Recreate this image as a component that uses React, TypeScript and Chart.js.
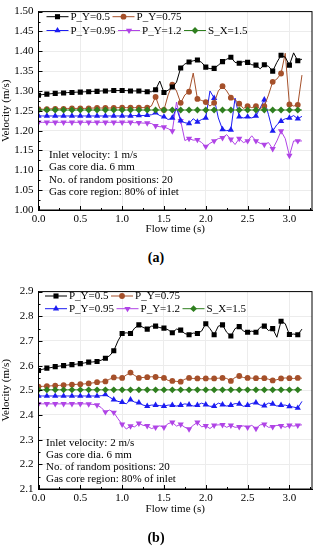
import React, { useEffect, useRef } from 'react';
import { Chart, registerables } from 'chart.js';
Chart.register(...registerables);

const FONT = "'Liberation Serif', 'Times New Roman', serif";

const TIME = [0.00,0.05,0.10,0.15,0.20,0.25,0.30,0.35,0.40,0.45,0.50,0.55,0.60,0.65,0.70,0.75,0.80,0.85,0.90,0.95,1.00,1.05,1.10,1.15,1.20,1.25,1.30,1.35,1.40,1.45,1.50,1.55,1.60,1.65,1.70,1.75,1.80,1.85,1.90,1.95,2.00,2.05,2.10,2.15,2.20,2.25,2.30,2.35,2.40,2.45,2.50,2.55,2.60,2.65,2.70,2.75,2.80,2.85,2.90,2.95,3.00,3.05,3.10,3.15];

const X_TICKS = [0, 0.5, 1.0, 1.5, 2.0, 2.5, 3.0];
const X_MINOR = [0.25, 0.75, 1.25, 1.75, 2.25, 2.75, 3.25];

// (a) inlet velocity 1 m/s
const A_Y_TICKS = [1.00,1.05,1.10,1.15,1.20,1.25,1.30,1.35,1.40,1.45,1.50];
const A_Y_MINOR = [1.025,1.075,1.125,1.175,1.225,1.275,1.325,1.375,1.425,1.475];
const A_PY05 = [1.289,1.291,1.292,1.293,1.294,1.295,1.295,1.296,1.296,1.297,
  1.297,1.298,1.298,1.299,1.299,1.300,1.300,1.300,1.301,1.301,
  1.301,1.301,1.300,1.300,1.300,1.299,1.298,1.298,1.303,1.325,
  1.296,1.302,1.310,1.322,1.358,1.368,1.373,1.376,1.378,1.372,
  1.360,1.356,1.357,1.365,1.374,1.380,1.385,1.372,1.370,1.374,
  1.372,1.366,1.365,1.356,1.366,1.362,1.350,1.372,1.390,1.385,
  1.365,1.396,1.376,1.380];
const A_PY075 = [1.254,1.254,1.254,1.255,1.255,1.255,1.255,1.256,1.256,1.256,
  1.256,1.256,1.256,1.257,1.257,1.257,1.257,1.257,1.257,1.258,
  1.258,1.258,1.258,1.258,1.258,1.258,1.258,1.262,1.285,1.256,
  1.252,1.290,1.316,1.300,1.270,1.290,1.298,1.345,1.280,1.276,
  1.272,1.262,1.270,1.300,1.312,1.300,1.283,1.278,1.268,1.256,
  1.262,1.258,1.262,1.255,1.262,1.290,1.323,1.330,1.344,1.395,
  1.266,1.262,1.265,1.340];
const A_PY095 = [1.237,1.237,1.237,1.237,1.237,1.237,1.237,1.237,1.237,1.237,
  1.237,1.237,1.237,1.237,1.237,1.237,1.237,1.237,1.237,1.237,
  1.237,1.237,1.237,1.238,1.238,1.238,1.239,1.240,1.245,1.238,
  1.235,1.228,1.232,1.257,1.225,1.220,1.218,1.230,1.222,1.228,
  1.232,1.300,1.282,1.232,1.203,1.200,1.202,1.282,1.235,1.232,
  1.235,1.232,1.237,1.257,1.278,1.240,1.199,1.215,1.224,1.230,
  1.232,1.238,1.230,1.236];
const A_PY12 = [1.221,1.221,1.221,1.221,1.221,1.221,1.221,1.221,1.221,1.221,
  1.221,1.221,1.221,1.221,1.221,1.221,1.221,1.221,1.221,1.221,
  1.221,1.221,1.221,1.220,1.220,1.219,1.219,1.218,1.212,1.210,
  1.209,1.205,1.199,1.272,1.225,1.175,1.180,1.176,1.177,1.170,
  1.160,1.168,1.174,1.180,1.182,1.190,1.178,1.165,1.180,1.170,
  1.174,1.187,1.174,1.168,1.165,1.170,1.154,1.174,1.199,1.180,
  1.137,1.174,1.174,1.174];
const A_SX15 = [1.252,1.252,1.252,1.252,1.252,1.252,1.252,1.252,1.252,1.252,
  1.252,1.252,1.252,1.252,1.252,1.252,1.252,1.252,1.252,1.252,
  1.252,1.252,1.252,1.252,1.252,1.252,1.252,1.252,1.252,1.252,
  1.252,1.252,1.252,1.252,1.252,1.252,1.252,1.252,1.252,1.252,
  1.252,1.252,1.252,1.252,1.252,1.252,1.252,1.252,1.252,1.252,
  1.252,1.252,1.252,1.252,1.252,1.252,1.252,1.252,1.252,1.252,
  1.252,1.252,1.252,1.252];

// (b) inlet velocity 2 m/s
const B_Y_TICKS = [2.1,2.2,2.3,2.4,2.5,2.6,2.7,2.8,2.9];
const B_Y_MINOR = [2.15,2.25,2.35,2.45,2.55,2.65,2.75,2.85];
const B_PY05 = [2.580,2.585,2.590,2.592,2.596,2.598,2.600,2.602,2.604,2.606,
  2.608,2.611,2.614,2.615,2.617,2.622,2.630,2.640,2.660,2.700,
  2.730,2.733,2.730,2.752,2.765,2.755,2.748,2.760,2.760,2.754,
  2.752,2.745,2.733,2.748,2.744,2.730,2.725,2.732,2.730,2.740,
  2.770,2.750,2.725,2.760,2.765,2.735,2.720,2.750,2.758,2.740,
  2.735,2.740,2.735,2.755,2.760,2.742,2.750,2.715,2.780,2.770,
  2.726,2.728,2.725,2.748];
const B_PY075 = [2.515,2.516,2.517,2.518,2.519,2.520,2.521,2.522,2.523,2.524,
  2.525,2.526,2.528,2.530,2.533,2.534,2.536,2.545,2.552,2.550,
  2.550,2.562,2.572,2.560,2.550,2.552,2.553,2.555,2.554,2.552,
  2.550,2.540,2.538,2.536,2.535,2.545,2.550,2.548,2.548,2.547,
  2.548,2.546,2.548,2.549,2.550,2.548,2.538,2.552,2.558,2.552,
  2.550,2.549,2.549,2.548,2.549,2.545,2.540,2.543,2.548,2.550,
  2.549,2.548,2.550,2.549];
const B_PY095 = [2.477,2.477,2.477,2.477,2.477,2.477,2.477,2.477,2.477,2.477,
  2.477,2.477,2.477,2.477,2.477,2.478,2.483,2.472,2.462,2.455,
  2.452,2.445,2.462,2.452,2.450,2.440,2.436,2.440,2.440,2.438,
  2.436,2.440,2.440,2.436,2.440,2.445,2.442,2.436,2.440,2.448,
  2.442,2.435,2.436,2.448,2.442,2.436,2.440,2.446,2.445,2.435,
  2.440,2.447,2.450,2.440,2.438,2.448,2.445,2.436,2.440,2.440,
  2.435,2.432,2.428,2.455];
const B_PY12 = [2.445,2.445,2.445,2.445,2.445,2.445,2.445,2.445,2.445,2.445,
  2.445,2.445,2.444,2.443,2.440,2.430,2.412,2.420,2.410,2.385,
  2.362,2.343,2.355,2.352,2.366,2.358,2.356,2.345,2.350,2.356,
  2.350,2.365,2.370,2.355,2.362,2.350,2.343,2.358,2.370,2.352,
  2.356,2.345,2.358,2.360,2.360,2.350,2.358,2.350,2.352,2.356,
  2.350,2.358,2.345,2.360,2.362,2.350,2.352,2.358,2.356,2.350,
  2.358,2.355,2.358,2.360];
const B_SX15 = [2.502,2.502,2.502,2.502,2.502,2.502,2.502,2.502,2.502,2.502,
  2.502,2.502,2.502,2.502,2.502,2.502,2.502,2.502,2.502,2.502,
  2.502,2.502,2.502,2.502,2.502,2.502,2.502,2.502,2.502,2.502,
  2.502,2.502,2.502,2.502,2.502,2.502,2.502,2.502,2.502,2.502,
  2.502,2.502,2.502,2.502,2.502,2.502,2.502,2.502,2.502,2.502,
  2.502,2.502,2.502,2.502,2.502,2.502,2.502,2.502,2.502,2.502,
  2.502,2.502,2.502,2.502];

const SERIES_LABELS = ['P_Y=0.5', 'P_Y=0.75', 'P_Y=0.95', 'P_Y=1.2', 'S_X=1.5'];
const COLORS = ['#000000', '#a5502a', '#1c1cf2', '#b044e6', '#2f7f1f'];
const STYLES = ['rect', 'circle', 'triangle', 'triangleDown', 'rectRot'];
const RADII = [3.6, 2.9, 3.6, 3.6, 3.4];

function drawMarker(ctx: CanvasRenderingContext2D, style: string, x: number, y: number, r: number, color: string) {
  ctx.save();
  ctx.fillStyle = color;
  ctx.beginPath();
  if (style === 'rect') {
    const s = r * Math.SQRT1_2;
    ctx.rect(x - s, y - s, 2 * s, 2 * s);
  } else if (style === 'circle') {
    ctx.arc(x, y, r, 0, Math.PI * 2);
  } else if (style === 'triangle' || style === 'triangleDown') {
    const base = style === 'triangle' ? 0 : Math.PI;
    for (let k = 0; k < 3; k++) {
      const a = base + (k * 2 * Math.PI) / 3;
      const px = x + Math.sin(a) * r;
      const py = y - Math.cos(a) * r;
      if (k === 0) ctx.moveTo(px, py); else ctx.lineTo(px, py);
    }
    ctx.closePath();
  } else {
    ctx.moveTo(x, y - r);
    ctx.lineTo(x + r, y);
    ctx.lineTo(x, y + r);
    ctx.lineTo(x - r, y);
    ctx.closePath();
  }
  ctx.fill();
  ctx.restore();
}

const framePlugin = {
  id: 'frame',
  afterDraw(chart: any, _args: any, opts: any) {
    const { ctx, chartArea: a, scales } = chart;
    ctx.save();
    ctx.strokeStyle = '#000';
    ctx.lineWidth = 1;
    ctx.strokeRect(a.left, a.top, a.right - a.left, a.bottom - a.top);
    ctx.beginPath();
    X_TICKS.forEach((v: number) => {
      const px = Math.round(scales.x.getPixelForValue(v)) + 0.5;
      ctx.moveTo(px, a.bottom); ctx.lineTo(px, a.bottom - 4);
    });
    X_MINOR.forEach((v: number) => {
      const px = Math.round(scales.x.getPixelForValue(v)) + 0.5;
      ctx.moveTo(px, a.bottom); ctx.lineTo(px, a.bottom - 2);
    });
    opts.yTicks.forEach((v: number) => {
      const py = Math.round(scales.y.getPixelForValue(v)) + 0.5;
      ctx.moveTo(a.left, py); ctx.lineTo(a.left + 4, py);
    });
    opts.yMinor.forEach((v: number) => {
      const py = Math.round(scales.y.getPixelForValue(v)) + 0.5;
      ctx.moveTo(a.left, py); ctx.lineTo(a.left + 2, py);
    });
    ctx.stroke();

    // legend inside plot
    ctx.font = `11px ${FONT}`;
    ctx.textBaseline = 'middle';
    ctx.textAlign = 'left';
    const rows: number[][] = [[0, 1], [2, 3, 4]];
    rows.forEach((row, ri) => {
      let x = opts.legendX;
      const y = opts.legendY[ri];
      row.forEach((i) => {
        ctx.strokeStyle = COLORS[i];
        ctx.lineWidth = 1;
        ctx.beginPath();
        ctx.moveTo(x, y); ctx.lineTo(x + 22, y);
        ctx.stroke();
        drawMarker(ctx, STYLES[i], x + 11, y, RADII[i], COLORS[i]);
        ctx.fillStyle = '#000';
        const tx = x + 24;
        ctx.fillText(SERIES_LABELS[i], tx, y + 0.5);
        x = tx + ctx.measureText(SERIES_LABELS[i]).width + 2.5;
      });
    });
    ctx.restore();
  },
};

type PanelProps = {
  top: number;
  height: number;
  padTop: number;
  xAxisH: number;
  yMin: number;
  yMax: number;
  yTicks: number[];
  yMinor: number[];
  decimals: number;
  series: number[][];
  legendX: number;
  legendY: number[];
};

function Panel(p: PanelProps) {
  const ref = useRef<HTMLCanvasElement | null>(null);
  useEffect(() => {
    if (!ref.current) return;
    const datasets = p.series.map((vals, i) => ({
      label: SERIES_LABELS[i],
      data: TIME.map((t, k) => ({ x: t, y: vals[k] })),
      borderColor: COLORS[i],
      backgroundColor: COLORS[i],
      borderWidth: 1,
      tension: 0,
      pointStyle: STYLES[i] === 'triangleDown' ? 'triangle' : STYLES[i],
      rotation: STYLES[i] === 'triangleDown' ? 180 : 0,
      pointRadius: TIME.map((_t, k) => (k % 2 === 0 ? RADII[i] : 0)),
      pointBorderWidth: 0,
      order: i === 4 ? 0 : i + 1,
    }));
    const chart = new Chart(ref.current, {
      type: 'line',
      data: { datasets },
      options: {
        animation: false,
        responsive: false,
        maintainAspectRatio: false,
        devicePixelRatio: 1,
        layout: { padding: { left: 0, top: p.padTop, right: 3, bottom: 0 } },
        plugins: {
          legend: { display: false },
          tooltip: { enabled: false },
          frame: { yTicks: p.yTicks, yMinor: p.yMinor, legendX: p.legendX, legendY: p.legendY },
        } as any,
        scales: {
          x: {
            type: 'linear',
            min: 0,
            max: 3.27,
            grid: { color: '#ececec', drawTicks: false },
            border: { color: '#000' },
            ticks: {
              color: '#000',
              font: { family: FONT, size: 11 },
              padding: 3,
              maxRotation: 0,
              callback: (v: any) => Number(v).toFixed(1),
            },
            afterBuildTicks: (s: any) => { s.ticks = X_TICKS.map((v) => ({ value: v })); },
            afterFit: (s: any) => { s.height = p.xAxisH; },
            title: { display: true, text: 'Flow time (s)', color: '#000', font: { family: FONT, size: 11 }, padding: 0 },
          },
          y: {
            type: 'linear',
            min: p.yMin,
            max: p.yMax,
            grid: { color: '#ececec', drawTicks: false },
            border: { color: '#000' },
            ticks: {
              color: '#000',
              font: { family: FONT, size: 11 },
              padding: 5,
              callback: (v: any) => Number(v).toFixed(p.decimals),
            },
            afterBuildTicks: (s: any) => { s.ticks = p.yTicks.map((v) => ({ value: v })); },
            afterFit: (s: any) => { s.width = 38.5; },
            title: { display: true, text: 'Velocity (m/s)', color: '#000', font: { family: FONT, size: 11 }, padding: 0 },
          },
        },
      } as any,
      plugins: [framePlugin as any],
    });
    return () => chart.destroy();
  }, []);
  return (
    <canvas
      ref={ref}
      width={316}
      height={p.height}
      style={{ position: 'absolute', left: 0, top: p.top, width: 316, height: p.height }}
    />
  );
}

const noteStyle: React.CSSProperties = {
  position: 'absolute',
  fontFamily: FONT,
  fontSize: 11,
  lineHeight: '12.3px',
  color: '#000',
  whiteSpace: 'pre',
};

const capStyle: React.CSSProperties = {
  position: 'absolute',
  left: 126,
  width: 60,
  textAlign: 'center',
  fontFamily: FONT,
  fontSize: 14,
  fontWeight: 'bold',
  lineHeight: '16px',
  color: '#000',
};

export default function App() {
  return (
    <div style={{ position: 'absolute', left: 0, top: 0, width: 316, height: 550, background: '#fff', overflow: 'hidden' }}>
      <Panel
        top={0}
        height={236}
        padTop={9}
        xAxisH={26}
        yMin={1.0}
        yMax={1.5}
        yTicks={A_Y_TICKS}
        yMinor={A_Y_MINOR}
        decimals={2}
        series={[A_PY05, A_PY075, A_PY095, A_PY12, A_SX15]}
        legendX={46.5}
        legendY={[16.7, 30.5]}
      />
      <div style={{ ...noteStyle, left: 49, top: 148 }}>
        {'Inlet velocity: 1 m/s\nGas core dia. 6 mm\nNo. of random positions: 20\nGas core region: 80% of inlet'}
      </div>
      <div style={{ ...capStyle, top: 250 }}>(a)</div>
      <Panel
        top={280}
        height={236}
        padTop={9.3}
        xAxisH={27}
        yMin={2.1}
        yMax={2.9}
        yTicks={B_Y_TICKS}
        yMinor={B_Y_MINOR}
        decimals={1}
        series={[B_PY05, B_PY075, B_PY095, B_PY12, B_SX15]}
        legendX={45}
        legendY={[16, 28.7]}
      />
      <div style={{ ...noteStyle, left: 46, top: 435.5 }}>
        {'Inlet velocity: 2 m/s\nGas core dia. 6 mm\nNo. of random positions: 20\nGas core region: 80% of inlet'}
      </div>
      <div style={{ ...capStyle, top: 530 }}>(b)</div>
    </div>
  );
}
